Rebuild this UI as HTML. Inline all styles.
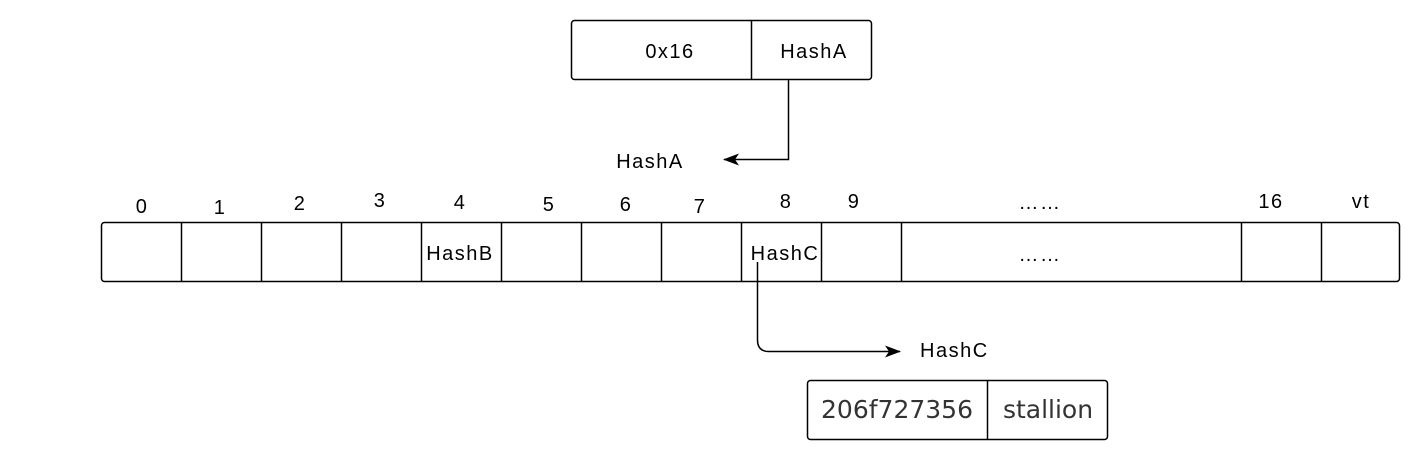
<!DOCTYPE html>
<html><head><meta charset="utf-8"><style>
html,body{margin:0;padding:0;background:#fff;}
svg{display:block;}
text{font-family:"Liberation Sans",Arial,sans-serif;font-size:20px;letter-spacing:1.5px;fill:#000;}
.o{font-family:"DejaVu Sans","Liberation Sans",sans-serif;font-size:25px;letter-spacing:0;fill:#333;}
</style></head><body>
<svg width="1416" height="460" viewBox="0 0 1416 460" xmlns="http://www.w3.org/2000/svg">
<defs>
<marker id="a2" viewBox="0 0 16 12" refX="15" refY="6" markerWidth="16" markerHeight="12" orient="auto" markerUnits="userSpaceOnUse"><path d="M0,0 L16,6 L0,12 L4,6 Z" fill="#000"/></marker></defs>
<g fill="none" stroke="#000" stroke-width="1.5">
<rect x="571.5" y="20.5" width="300" height="59" rx="3"/>
<line x1="751.5" y1="20.5" x2="751.5" y2="79.5"/>
<rect x="101.5" y="222.5" width="1298" height="59" rx="3"/>
<line x1="181.5" y1="222" x2="181.5" y2="282"/>
<line x1="261.5" y1="222" x2="261.5" y2="282"/>
<line x1="341.5" y1="222" x2="341.5" y2="282"/>
<line x1="421.5" y1="222" x2="421.5" y2="282"/>
<line x1="501.5" y1="222" x2="501.5" y2="282"/>
<line x1="581.5" y1="222" x2="581.5" y2="282"/>
<line x1="661.5" y1="222" x2="661.5" y2="282"/>
<line x1="741.5" y1="222" x2="741.5" y2="282"/>
<line x1="821.5" y1="222" x2="821.5" y2="282"/>
<line x1="901.5" y1="222" x2="901.5" y2="282"/>
<line x1="1241.5" y1="222" x2="1241.5" y2="282"/>
<line x1="1321.5" y1="222" x2="1321.5" y2="282"/>
<rect x="807.5" y="380.5" width="300" height="59" rx="3"/>
<line x1="987.5" y1="380.5" x2="987.5" y2="439.5"/>
<path d="M788.5,80 L788.5,159.5 L724,159.5" marker-end="url(#a2)"/>
<path d="M757.5,262 L757.5,340 Q757.5,351.5 769,351.5 L900,351.5" marker-end="url(#a2)"/>
</g>
<text x="670" y="58" text-anchor="middle">0x16</text>
<text x="814" y="58" text-anchor="middle">HashA</text>
<text x="650" y="168" text-anchor="middle">HashA</text>
<text x="142" y="213" text-anchor="middle">0</text>
<text x="220" y="214" text-anchor="middle">1</text>
<text x="300" y="210" text-anchor="middle">2</text>
<text x="380" y="207" text-anchor="middle">3</text>
<text x="460" y="209" text-anchor="middle">4</text>
<text x="549" y="211" text-anchor="middle">5</text>
<text x="626" y="211" text-anchor="middle">6</text>
<text x="700" y="213" text-anchor="middle">7</text>
<text x="786" y="208" text-anchor="middle">8</text>
<text x="854" y="208" text-anchor="middle">9</text>
<text x="1040" y="209" text-anchor="middle">……</text>
<text x="1271" y="208" text-anchor="middle">16</text>
<text x="1361" y="208" text-anchor="middle">vt</text>
<text x="460" y="260" text-anchor="middle">HashB</text>
<text x="785" y="260" text-anchor="middle">HashC</text>
<text x="1040" y="261" text-anchor="middle">……</text>
<text x="920" y="357">HashC</text>
<text class="o" x="897" y="418" text-anchor="middle">206f727356</text>
<text class="o" x="1048" y="418" text-anchor="middle">stallion</text>
</svg>
</body></html>
